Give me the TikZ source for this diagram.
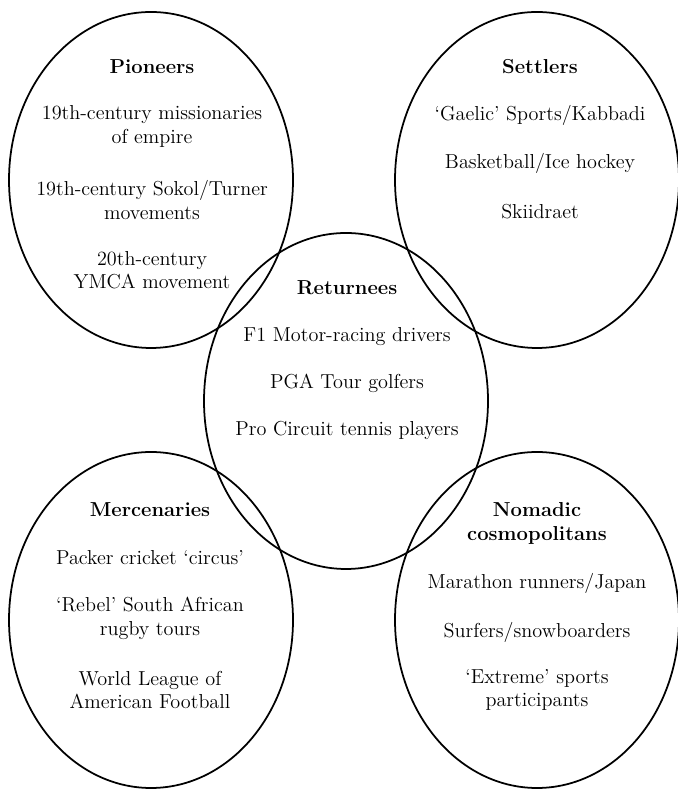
\documentclass[tikz,border=0pt]{standalone}
\usepackage{tikz}
\usetikzlibrary{positioning}

\tikzset{
    group/.style={line width=1pt},
    item/.style={align=center, inner sep=0pt, font=\fontsize{11.5}{13.4}\selectfont},
    head/.style={item, font=\fontsize{11.5}{13.4}\selectfont\bfseries}
}

\begin{document}
\begin{tikzpicture}
    \useasboundingbox (0,0) rectangle (13.54,15.86);

    \foreach \cx/\cy in {3.02/12.26, 10.74/12.26, 6.92/7.84, 3.02/3.46, 10.74/3.46}
        \draw[group] (\cx,\cy) ellipse (2.84 and 3.36);

    \node[head] (pio) at (3.04,14.52) {Pioneers};
    \node[item] (pio1) at (3.04,13.33) {19th-century missionaries\\of empire};
    \node[item] (pio2) at (3.04,11.86) {19th-century Sokol/Turner\\movements};
    \node[item] (pio3) at (3.04,10.46) {20th-century\\YMCA movement};

    \node[head] (set) at (10.80,14.52) {Settlers};
    \node[item] (set1) at (10.80,13.56) {`Gaelic' Sports/Kabbadi};
    \node[item] (set2) at (10.80,12.60) {Basketball/Ice hockey};
    \node[item] (set3) at (10.80,11.62) {Skiidraet};

    \node[head] (ret) at (6.94,10.10) {Returnees};
    \node[item] (ret1) at (6.94,9.12) {F1 Motor-racing drivers};
    \node[item] (ret2) at (6.94,8.20) {PGA Tour golfers};
    \node[item] (ret3) at (6.94,7.26) {Pro Circuit tennis players};

    \node[head] (mer) at (3.00,5.66) {Mercenaries};
    \node[item] (mer1) at (3.00,4.70) {Packer cricket `circus'};
    \node[item] (mer2) at (3.00,3.49) {`Rebel' South African\\rugby tours};
    \node[item] (mer3) at (3.00,2.06) {World League of\\American Football};

    \node[head] (nom) at (10.74,5.39) {Nomadic\\cosmopolitans};
    \node[item] (nom1) at (10.74,4.20) {Marathon runners/Japan};
    \node[item] (nom2) at (10.74,3.22) {Surfers/snowboarders};
    \node[item] (nom3) at (10.74,2.06) {`Extreme' sports\\participants};
\end{tikzpicture}
\end{document}
